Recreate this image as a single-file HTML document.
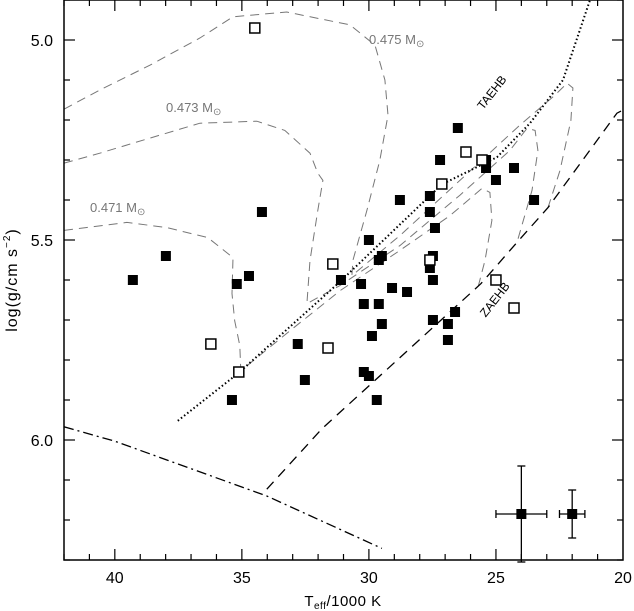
<!DOCTYPE html>
<html><head><meta charset="utf-8"><style>
html,body{margin:0;padding:0;background:#fff;}
svg{display:block;font-family:"Liberation Sans","DejaVu Sans",sans-serif;}
</style></head><body>
<svg id="chart" width="634" height="611" viewBox="0 0 634 611"></svg>
<script>
const xTicksMajor=[40,35,30,25,20];
const yTicksMajor=[5.0,5.5,6.0];
const filledT=[39.29,37.99,34.21,34.72,35.20,35.39,32.80,32.52,31.10,30.31,29.09,28.50,30.20,29.61,29.49,29.88,30.20,30.00,29.69,30.00,29.49,29.61,28.78,27.60,27.60,27.40,27.48,27.60,27.48,27.20,26.50,25.39,25.39,24.29,25.00,23.50,26.61,27.48,26.89,26.89];
const filledG=[5.60,5.54,5.43,5.59,5.61,5.90,5.76,5.85,5.60,5.61,5.62,5.63,5.66,5.66,5.71,5.74,5.83,5.84,5.90,5.50,5.54,5.55,5.40,5.39,5.43,5.47,5.54,5.57,5.60,5.30,5.22,5.30,5.32,5.32,5.35,5.40,5.68,5.70,5.71,5.75];
const openT=[34.49,31.42,36.22,31.61,35.12,26.18,25.55,27.13,27.60,25.00,24.29];
const openG=[4.97,5.56,5.76,5.77,5.83,5.28,5.30,5.36,5.55,5.60,5.67];
const errT=[24.0,22.0];
const errG=[6.185,6.185];
const errDT=[1.0,0.5];
const errDG=[0.12,0.06];
const taehbT=[37.52,35.12,31.10,27.13,24.96,23.66,22.36,21.30];
const taehbG=[5.952,5.832,5.602,5.361,5.293,5.208,5.100,4.90];
const zaehbT=[34.02,31.85,25.59,24.17,22.95,20.24,20.0];
const zaehbG=[6.123,5.972,5.609,5.506,5.419,5.183,5.175];
const hetT=[42.0,40.0,34.02,29.49];
const hetG=[5.967,6.003,6.140,6.271];
const tr475T=[42.0,40.59,38.62,36.65,35.35,33.23,31.93,30.75,29.76,29.37,29.25,29.57,30.08,30.63,30.67,28.78,26.42,24.06,22.68,22.20,21.97,22.05,22.48,22.95];
const tr475G=[5.173,5.125,5.063,4.995,4.942,4.930,4.947,4.962,5.013,5.100,5.188,5.301,5.426,5.551,5.589,5.489,5.351,5.213,5.138,5.108,5.120,5.201,5.326,5.419];
const tr473T=[42.0,40.59,39.29,36.65,34.41,33.31,32.32,32.01,31.81,32.01,32.32,32.44,31.14,28.78,26.42,24.45,23.78,23.46,23.35,23.58,24.17];
const tr473G=[5.308,5.283,5.258,5.208,5.203,5.226,5.283,5.333,5.351,5.426,5.551,5.659,5.614,5.514,5.388,5.276,5.221,5.226,5.276,5.376,5.506];
const tr471T=[42.0,39.53,37.95,36.34,35.35,35.39,35.28,35.08,35.04,33.11,31.14,28.78,26.81,25.55,25.24,25.16,25.43,25.71];
const tr471G=[5.476,5.456,5.469,5.494,5.544,5.634,5.702,5.764,5.827,5.727,5.627,5.526,5.439,5.371,5.381,5.451,5.551,5.619];

const L=64,R=623,T0=0,B=560;
const X=t=>L+(42-t)*(R-L)/22;
const Y=g=>40+(g-5.0)*400;
const NS='http://www.w3.org/2000/svg';
const svg=document.getElementById('chart');
function mk(tag,attrs,parent){const e=document.createElementNS(NS,tag);for(const k in attrs)e.setAttribute(k,attrs[k]);(parent||svg).appendChild(e);return e;}
function poly(ts,gs){return ts.map((t,i)=>X(t).toFixed(1)+','+Y(gs[i]).toFixed(1)).join(' ');}

const clip=mk('clipPath',{id:'pc'});mk('rect',{x:L,y:T0,width:R-L,height:B-T0},clip);

const tracks=[[tr475T,tr475G,'track-0475'],[tr473T,tr473G,'track-0473'],[tr471T,tr471G,'track-0471']];
tracks.forEach(tr=>{
  const p=mk('polyline',{points:poly(tr[0],tr[1]),fill:'none',stroke:'#777','stroke-width':1,'stroke-dasharray':'9,6','clip-path':'url(#pc)'});
  
  
});
const ta=mk('polyline',{points:poly(taehbT,taehbG),fill:'none',stroke:'#000','stroke-width':2,'stroke-dasharray':'1.5,2.5','clip-path':'url(#pc)'});


const za=mk('polyline',{points:poly(zaehbT,zaehbG),fill:'none',stroke:'#000','stroke-width':1.3,'stroke-dasharray':'10,7','clip-path':'url(#pc)'});


const he=mk('polyline',{points:poly(hetT,hetG),fill:'none',stroke:'#000','stroke-width':1.3,'stroke-dasharray':'10,4,2,4','clip-path':'url(#pc)'});



filledT.forEach((t,i)=>{
  const r=mk('rect',{x:X(t)-5,y:Y(filledG[i])-5,width:10,height:10,fill:'#000'});
  
  
});
openT.forEach((t,i)=>{
  const r=mk('rect',{x:X(t)-5,y:Y(openG[i])-5,width:10,height:10,fill:'#fff',stroke:'#000','stroke-width':1.5});
  
  
});
errT.forEach((t,i)=>{
  const g=mk('g',{stroke:'#000','stroke-width':1.3});
  
  
  const cx=X(t),cy=Y(errG[i]),x1=X(t+errDT[i]),x2=X(t-errDT[i]),y1=Y(errG[i]-errDG[i]),y2=Y(errG[i]+errDG[i]);
  mk('line',{x1:x1,y1:cy,x2:x2,y2:cy},g);mk('line',{x1:cx,y1:y1,x2:cx,y2:y2},g);
  mk('line',{x1:x1,y1:cy-4,x2:x1,y2:cy+4},g);mk('line',{x1:x2,y1:cy-4,x2:x2,y2:cy+4},g);
  mk('line',{x1:cx-4,y1:y1,x2:cx+4,y2:y1},g);mk('line',{x1:cx-4,y1:y2,x2:cx+4,y2:y2},g);
  mk('rect',{x:cx-5,y:cy-5,width:10,height:10,fill:'#000',stroke:'none'},g);
});

const fr=mk('rect',{x:L,y:T0,width:R-L,height:B-T0,fill:'none',stroke:'#000','stroke-width':1.5});


for(let t=21;t<=42;t++){
  const maj=(t%5===0);const len=maj?11:6;const x=X(t);
  mk('line',{x1:x,y1:B,x2:x,y2:B-len,stroke:'#000','stroke-width':1.2});
  mk('line',{x1:x,y1:T0,x2:x,y2:T0+len,stroke:'#000','stroke-width':1.2});
}
for(let k=49;k<=63;k++){
  const g=k/10;const maj=(k%5===0);const len=maj?11:6;const y=Y(g);
  mk('line',{x1:L,y1:y,x2:L+len,y2:y,stroke:'#000','stroke-width':1.2});
  mk('line',{x1:R,y1:y,x2:R-len,y2:y,stroke:'#000','stroke-width':1.2});
}
xTicksMajor.forEach(t=>{
  const e=mk('text',{x:X(t),y:583,'text-anchor':'middle','font-size':16,fill:'#000'});e.textContent=String(t);
  
  
});
yTicksMajor.forEach(g=>{
  const e=mk('text',{x:53,y:Y(g)+6,'text-anchor':'end','font-size':16,fill:'#000'});e.textContent=g.toFixed(1);
  
  
});
</script>
<script>
const s=document.getElementById('chart');
s.insertAdjacentHTML('beforeend',`
<text x="343" y="606" text-anchor="middle" font-size="15" letter-spacing="0.5">T<tspan font-size="10" dy="3">eff</tspan><tspan dy="-3">/1000 K</tspan></text>
<text transform="translate(17,280) rotate(-90)" text-anchor="middle" font-size="16" letter-spacing="1">log(g/cm s<tspan font-size="10" dy="-7">−2</tspan><tspan dy="7">)</tspan></text>
<text x="369" y="44" font-size="13" fill="#777">0.475 M<tspan font-size="10" dy="3">⊙</tspan></text>
<text x="166" y="112" font-size="13" fill="#777">0.473 M<tspan font-size="10" dy="3">⊙</tspan></text>
<text x="90" y="212" font-size="13" fill="#777">0.471 M<tspan font-size="10" dy="3">⊙</tspan></text>
<text transform="translate(495,95) rotate(-52)" text-anchor="middle" font-size="12">TAEHB</text>
<text transform="translate(498,302) rotate(-52)" text-anchor="middle" font-size="12">ZAEHB</text>
`);
</script>
</body></html>
